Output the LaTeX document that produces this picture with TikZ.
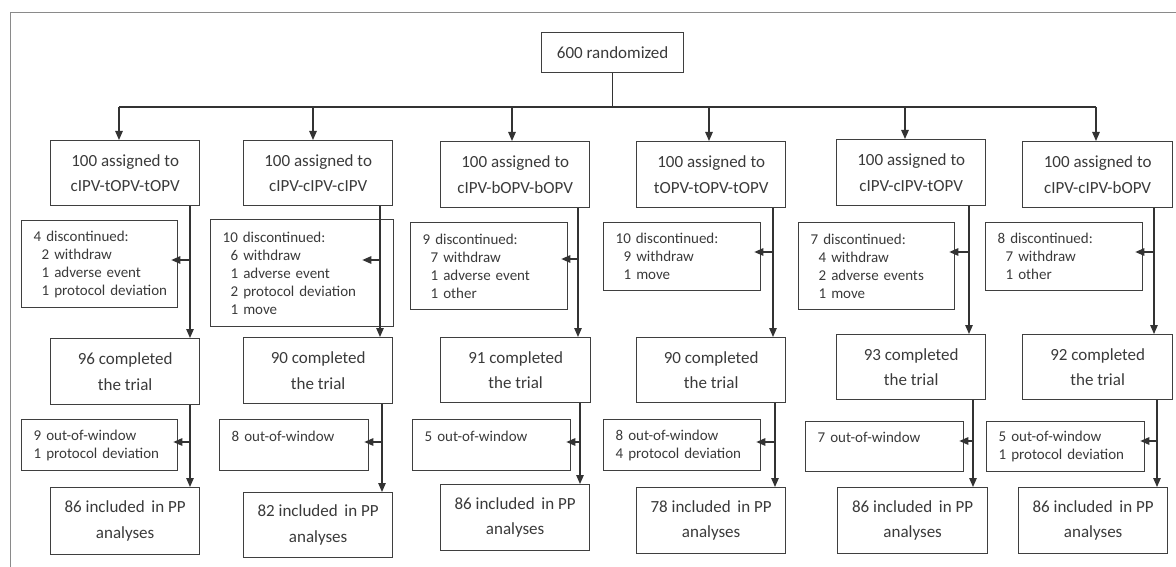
\documentclass[tikz,border=0pt]{standalone}
\usepackage{fontspec}
\setmainfont{Carlito}
\usetikzlibrary{arrows.meta,calc}
\definecolor{boxc}{HTML}{3F3F3F}
\definecolor{linec}{HTML}{333333}
\definecolor{txtc}{HTML}{3A3A3A}
\definecolor{framec}{HTML}{8A8A8A}
\newcommand{\myind}[1]{\mbox{\hspace*{8pt}#1}}
\begin{document}
\begin{tikzpicture}[x=1pt,y=-1pt,
  bigbox/.style={draw=boxc, line width=1.3pt, anchor=north west, align=center, text=txtc,
    font=\fontsize{17}{25.5}\selectfont, inner sep=0pt},
  smallbox/.style={draw=boxc, line width=1.3pt, anchor=north west, align=left, text=txtc,
    font=\fontsize{15}{18}\selectfont, inner xsep=12pt, inner ysep=0pt},
  conn/.style={draw=linec, line width=1.2pt},
  arr/.style={conn, -{Triangle[length=9pt,width=7.5pt]}},
]
\useasboundingbox (0,0) rectangle (1176,567);
% frame
\draw[framec, line width=0.9pt] (10.5,567) -- (10.5,12.5) -- (1176,12.5);

% top
\node[bigbox, minimum width=142pt, minimum height=40pt] (top) at (541,32) {600 randomized};

% row 1
\node[bigbox, minimum width=149pt, minimum height=65pt] (r1) at (50,140) {100 assigned to\\cIPV-tOPV-tOPV};
\node[bigbox, minimum width=149pt, minimum height=65pt] (r2) at (243,140) {100 assigned to\\cIPV-cIPV-cIPV};
\node[bigbox, minimum width=149pt, minimum height=66pt] (r3) at (440,141) {100 assigned to\\cIPV-bOPV-bOPV};
\node[bigbox, minimum width=149pt, minimum height=66pt] (r4) at (636,141) {100 assigned to\\tOPV-tOPV-tOPV};
\node[bigbox, minimum width=149pt, minimum height=66pt] (r5) at (836,139) {100 assigned to\\cIPV-cIPV-tOPV};
\node[bigbox, minimum width=150pt, minimum height=66pt] (r6) at (1022,141) {100 assigned to\\cIPV-cIPV-bOPV};

% discontinued
\node[smallbox, text width=132pt, minimum height=87pt] (d1) at (21,220)
  {\mbox{4 discontinued:}\\\myind{2 withdraw}\\\myind{1 adverse event}\\\myind{1 protocol deviation}};
\node[smallbox, text width=159pt, minimum height=107pt] (d2) at (210,219)
  {\mbox{10 discontinued:}\\\myind{6 withdraw}\\\myind{1 adverse event}\\\myind{2 protocol deviation}\\\myind{1 move}};
\node[smallbox, text width=133pt, minimum height=87pt] (d3) at (410,222)
  {\mbox{9 discontinued:}\\\myind{7 withdraw}\\\myind{1 adverse event}\\\myind{1 other}};
\node[smallbox, text width=133pt, minimum height=68pt] (d4) at (603,222)
  {\mbox{10 discontinued:}\\\myind{9 withdraw}\\\myind{1 move}};
\node[smallbox, text width=132pt, minimum height=87pt] (d5) at (798,222)
  {\mbox{7 discontinued:}\\\myind{4 withdraw}\\\myind{2 adverse events}\\\myind{1 move}};
\node[smallbox, text width=133pt, minimum height=68pt] (d6) at (985,222)
  {\mbox{8 discontinued:}\\\myind{7 withdraw}\\\myind{1 other}};

% completed
\node[bigbox, minimum width=149pt, minimum height=66pt] (c1) at (50,338) {96 completed\\the trial};
\node[bigbox, minimum width=149pt, minimum height=66pt] (c2) at (243,337) {90 completed\\the trial};
\node[bigbox, minimum width=150pt, minimum height=65pt] (c3) at (440,337) {91 completed\\the trial};
\node[bigbox, minimum width=149pt, minimum height=65pt] (c4) at (636,337) {90 completed\\the trial};
\node[bigbox, minimum width=149pt, minimum height=65pt] (c5) at (836,334) {93 completed\\the trial};
\node[bigbox, minimum width=150pt, minimum height=65pt] (c6) at (1022,334) {92 completed\\the trial};

% out-of-window
\node[smallbox, text width=132pt, minimum height=51pt] (o1) at (21,419) {\mbox{9 out-of-window}\\\mbox{1 protocol deviation}};
\node[smallbox, text width=125pt, minimum height=51pt] (o2) at (219,419) {\mbox{8 out-of-window}\\\mbox{}};
\node[smallbox, text width=134pt, minimum height=51pt] (o3) at (412,419) {\mbox{5 out-of-window}\\\mbox{}};
\node[smallbox, text width=133pt, minimum height=51pt] (o4) at (603,419) {\mbox{8 out-of-window}\\\mbox{4 protocol deviation}};
\node[smallbox, text width=134pt, minimum height=50pt] (o5) at (805,421) {\mbox{7 out-of-window}\\\mbox{}};
\node[smallbox, text width=134pt, minimum height=50pt] (o6) at (986,421) {\mbox{5 out-of-window}\\\mbox{1 protocol deviation}};

% final
\node[bigbox, minimum width=149pt, minimum height=67pt] (f1) at (50,487) {86 included\, in PP\\analyses};
\node[bigbox, minimum width=149pt, minimum height=65pt] (f2) at (243,492) {82 included\, in PP\\analyses};
\node[bigbox, minimum width=149pt, minimum height=66pt] (f3) at (440,484) {86 included\, in PP\\analyses};
\node[bigbox, minimum width=149pt, minimum height=66pt] (f4) at (636,487) {78 included\, in PP\\analyses};
\node[bigbox, minimum width=150pt, minimum height=66pt] (f5) at (837,487) {86 included\, in PP\\analyses};
\node[bigbox, minimum width=149pt, minimum height=66pt] (f6) at (1018,487) {86 included\, in PP\\analyses};

% bus
\coordinate (a1) at (119,107);
\coordinate (a2) at (313,107);
\coordinate (a3) at (512,107);
\coordinate (a4) at (709,107);
\coordinate (a5) at (905,107);
\coordinate (a6) at (1096,107);
\draw[conn] (top.south) -- (top.south |- a1);
\draw[conn] (a1) -- (a6);
\foreach \i in {1,...,6}{\draw[arr] (a\i) -- (a\i |- r\i.north);}

% upper verticals
\coordinate (u1) at (190,260);
\coordinate (u2) at (380,260);
\coordinate (u3) at (578,259);
\coordinate (u4) at (773,252);
\coordinate (u5) at (969,252);
\coordinate (u6) at (1154,252);
\foreach \i in {1,...,6}{\draw[arr] (u\i |- r\i.south) -- (u\i |- c\i.north);}
\draw[arr] (u1) -- ([xshift=-7pt]d1.east |- u1);
\draw[arr] (u2) -- ([xshift=-32pt]d2.east |- u2);
\draw[arr] (u3) -- ([xshift=-7pt]d3.east |- u3);
\draw[arr] (u4) -- ([xshift=-7pt]d4.east |- u4);
\draw[arr] (u5) -- ([xshift=-6pt]d5.east |- u5);
\draw[arr] (u6) -- ([xshift=-8pt]d6.east |- u6);

% lower verticals
\coordinate (w1) at (190,442);
\coordinate (w2) at (382,442);
\coordinate (w3) at (580,442);
\coordinate (w4) at (775,442);
\coordinate (w5) at (973,441);
\coordinate (w6) at (1157,441);
\foreach \i in {1,...,6}{
  \draw[arr] (w\i |- c\i.south) -- (w\i |- f\i.north);
  \draw[arr] (w\i) -- ([xshift=-5pt]o\i.east |- w\i);
}
\end{tikzpicture}
\end{document}
